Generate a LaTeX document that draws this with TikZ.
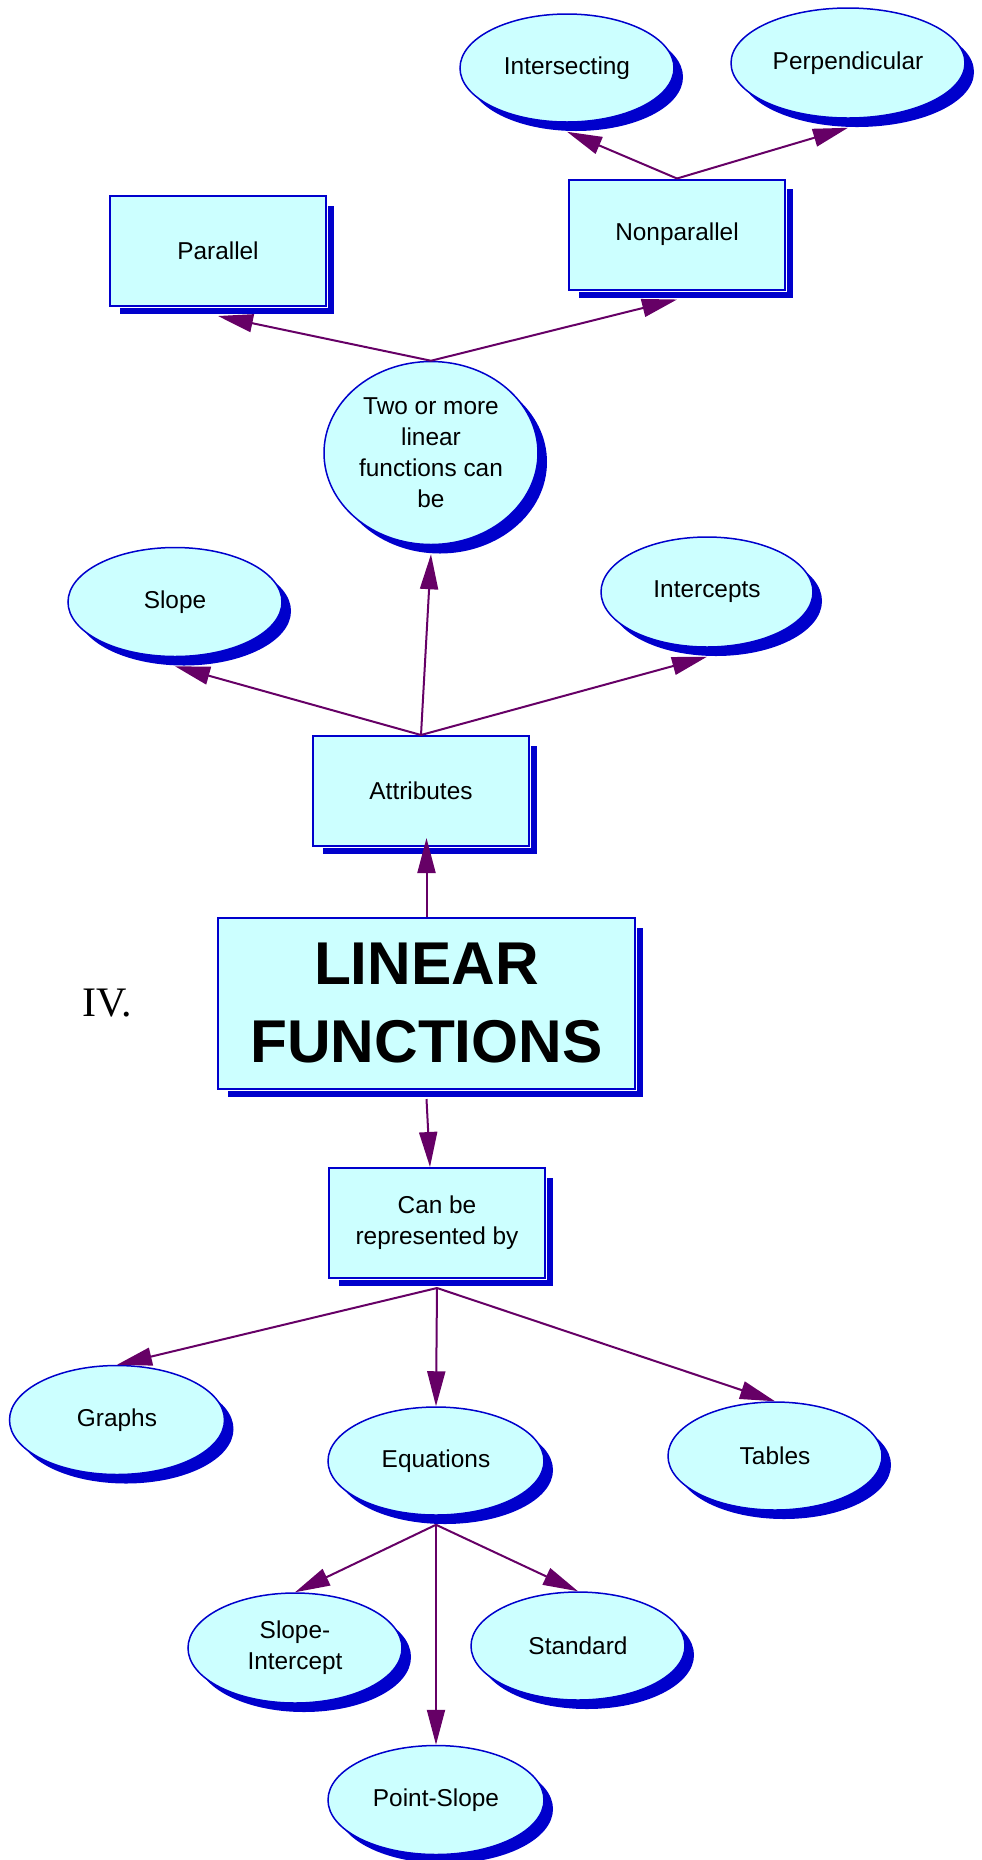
\documentclass[tikz,border=0pt]{standalone}
\usepackage{fontspec}
\setmainfont{Liberation Sans}
\newfontfamily\romanfont{Liberation Serif}
\usepackage{tikz}
\usetikzlibrary{arrows.meta, shapes.geometric}
\definecolor{paleblue}{HTML}{CCFFFF}
\definecolor{nodeblue}{HTML}{0000CC}
\definecolor{linkpurple}{HTML}{660066}
\begin{document}
\begin{tikzpicture}[x=0.5pt, y=-0.5pt,
        every node/.style={font=\fontsize{12.2}{15.5}\selectfont, align=center, inner sep=0pt},
        oval/.style={ellipse, fill=paleblue, draw=nodeblue, line width=0.75pt,
            preaction={fill=nodeblue, transform canvas={shift={(4.5pt,-4.5pt)}}}},
        card/.style={rectangle, fill=paleblue, draw=nodeblue, line width=1pt,
            preaction={fill=nodeblue, draw=white, line width=0.75pt, transform canvas={shift={(4.5pt,-4.5pt)}}},
            preaction={draw=white, line width=2pt}},
        link/.style={draw=linkpurple, line width=1pt, -{Triangle[length=17.5pt,width=9pt]}}]
        \useasboundingbox (0,0) rectangle (981,1860);
        \foreach \n/\x/\y/\w/\h/\t in {Intersecting/567/68/214/108/Intersecting,
            Perpendicular/848/63/234/110/Perpendicular,
            Two/431/453/214/183/{Two or more\\linear\\functions can\\be},
            Slope/175/602/214/109/Slope,
            Intercepts/707/592/212/110/Intercepts,
            Graphs/117/1420/215/109/Graphs,
            Equations/436/1461/216/108/Equations,
            Tables/775/1456/214/108/Tables,
            SlopeInt/295/1648/214/110/{Slope-\\Intercept},
            Standard/578/1646/214/108/Standard,
            PointSlope/436/1800/216/109/Point-Slope} {
                \node[oval, minimum width=\w*0.5pt, minimum height=\h*0.5pt] (\n) at (\x,\y) {\t};
        }
        \foreach \n/\x/\y/\t in {Parallel/218/251/Parallel,
            Nonparallel/677/234.5/Nonparallel,
            Attributes/421/791/Attributes,
            Can/437/1223/{Can be\\represented by}} {
                \node[card, minimum width=108pt, minimum height=55pt] (\n) at (\x,\y) {\t};
        }
        \node[card, minimum width=208.5pt, minimum height=85.5pt,
            font=\fontsize{30.2}{39}\selectfont\bfseries] (Linear) at (426.5,1003.5) {LINEAR\\FUNCTIONS};
        \node[anchor=base west, font=\romanfont\fontsize{21}{25}\selectfont] (Roman) at (82,1016) {IV.};
        \foreach \a/\b in {Nonparallel/Intersecting, Nonparallel/Perpendicular,
            Two/Parallel, Two/Nonparallel,
            Attributes/Slope, Attributes/Two, Attributes/Intercepts} {
                \draw[link] (\a.north) -- ([yshift=-4.5pt]\b.south);
        }
        \draw[link, shorten >=-4.5pt] (Linear.north) -- (Linear.north |- Attributes.south);
        \draw[link] ([yshift=-4.5pt]Linear.south) -- ([xshift=-3.5pt]Can.north);
        \foreach \a/\b in {Can/Graphs, Can/Equations, Can/Tables,
            Equations/SlopeInt, Equations/PointSlope, Equations/Standard} {
                \draw[link] ([yshift=-4.5pt]\a.south) -- (\b.north);
        }
    \end{tikzpicture}
\end{document}
